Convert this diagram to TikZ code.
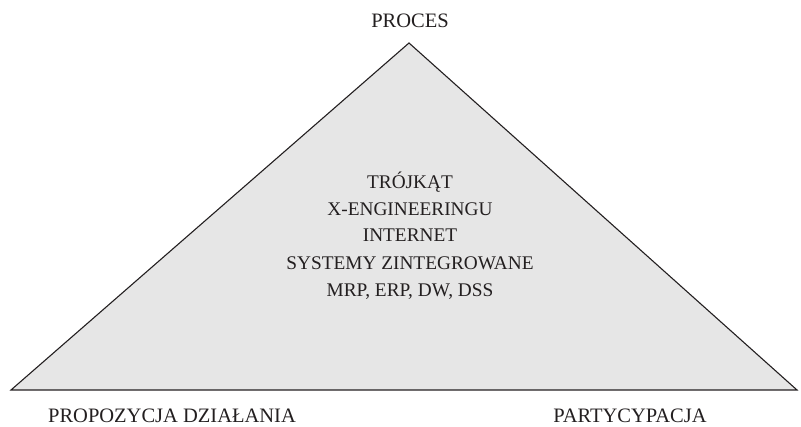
\documentclass[tikz,border=0pt]{standalone}
\usepackage{fontspec}
\setmainfont{Liberation Serif}
\definecolor{trifill}{HTML}{E6E6E6}
\definecolor{ink}{HTML}{231F20}
\begin{document}
\begin{tikzpicture}[x=1pt,y=1pt,
  lbl/.style={anchor=base,inner sep=0pt,text=ink,font=\fontsize{20.5}{24}\selectfont},
  mid/.style={anchor=base,inner sep=0pt,text=ink,font=\fontsize{19.3}{24}\selectfont},
  edge/.style={draw=ink,line width=1.1pt,line join=miter}]
\useasboundingbox (0,0) rectangle (801,427);
\coordinate (A) at (409,384);
\coordinate (L) at (11,37);
\coordinate (R) at (797,37);
\filldraw[edge,fill=trifill] (A) -- (L) -- (R) -- cycle;
\node[lbl] (proces) at (410,399) {PROCES};
\node[lbl] (prop) at (172,4) {PROPOZYCJA DZIAŁANIA};
\node[lbl] (part) at (630,4) {PARTYCYPACJA};
\node[mid] (l1) at (410,238) {TRÓJKĄT};
\node[mid] (l2) at (410,211.5) {X-ENGINEERINGU};
\node[mid] (l3) at (410,185) {INTERNET};
\node[mid] (l4) at (410,157.5) {SYSTEMY ZINTEGROWANE};
\node[mid] (l5) at (410,130.5) {MRP, ERP, DW, DSS};
\end{tikzpicture}
\end{document}
